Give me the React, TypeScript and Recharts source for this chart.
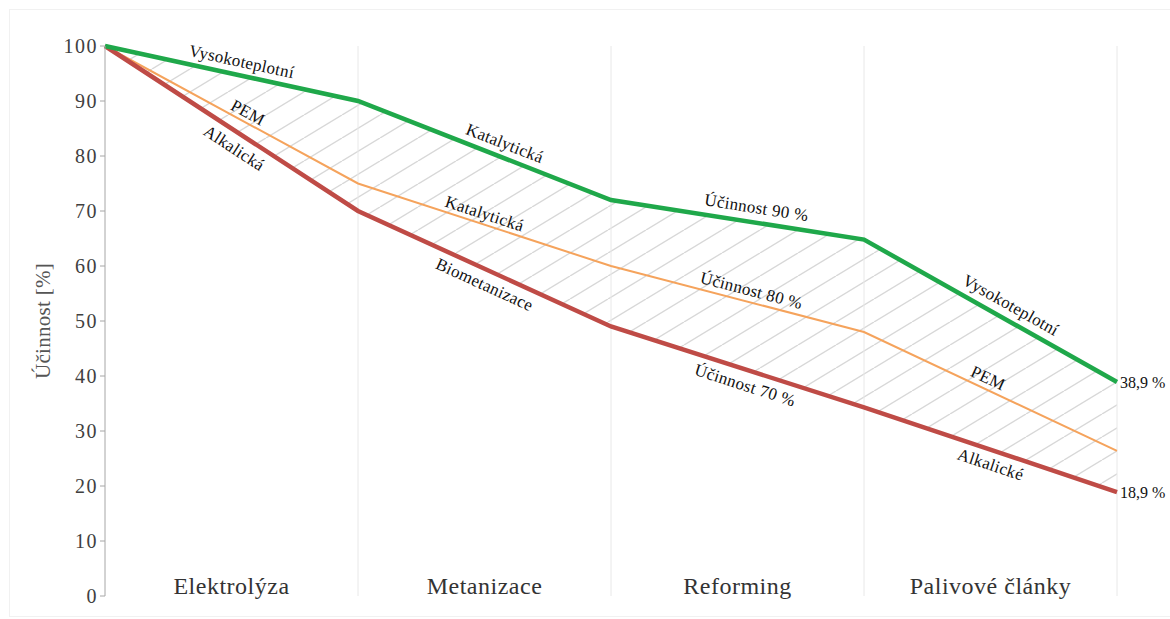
import {
  ComposedChart, Line, Area, XAxis, YAxis, ReferenceLine, ReferenceDot,
} from 'recharts'

const steps = [0, 1, 2, 3, 4]
const stages = ['Elektrolýza', 'Metanizace', 'Reforming', 'Palivové články']
const stageTicks = [0.5, 1.5, 2.5, 3.5]
const yTicks = [0, 10, 20, 30, 40, 50, 60, 70, 80, 90, 100]

// účinnost řetězce po jednotlivých krocích
const high = [100, 90, 72, 64.8, 38.9]
const mid = [100, 75, 60, 48, 26.4]
const low = [100, 70, 49, 34.3, 18.9]

const series: Record<string, number[]> = { high, mid, low }

// popisky podél úseků: seg = index úseku, t = poloha v úseku, dy = posun v px
const lineLabels = [
  { s: 'high', seg: 0, t: 0.54, dy: -14, text: 'Vysokoteplotní' },
  { s: 'mid', seg: 0, t: 0.565, dy: -11, text: 'PEM' },
  { s: 'low', seg: 0, t: 0.51, dy: 18, text: 'Alkalická' },
  { s: 'high', seg: 1, t: 0.58, dy: -15, text: 'Katalytická' },
  { s: 'mid', seg: 1, t: 0.5, dy: -11, text: 'Katalytická' },
  { s: 'low', seg: 1, t: 0.5, dy: 16, text: 'Biometanizace' },
  { s: 'high', seg: 2, t: 0.575, dy: -15, text: 'Účinnost 90 %' },
  { s: 'mid', seg: 2, t: 0.555, dy: -12, text: 'Účinnost 80 %' },
  { s: 'low', seg: 2, t: 0.53, dy: 16, text: 'Účinnost 70 %' },
  { s: 'high', seg: 3, t: 0.58, dy: -17, text: 'Vysokoteplotní' },
  { s: 'mid', seg: 3, t: 0.49, dy: -12, text: 'PEM' },
  { s: 'low', seg: 3, t: 0.5, dy: 15, text: 'Alkalické' },
]

const data = steps.map((step, i) => ({ step, high: high[i], mid: mid[i], low: low[i] }))

const W = 1170
const H = 619
const M = { top: 46, right: 53, left: 0, bottom: 0 }
const Y_W = 105
const X_H = 23
const PLOT_W = W - M.left - M.right - Y_W
const PLOT_H = H - M.top - M.bottom - X_H
const PX_X = PLOT_W / (steps.length - 1)
const PX_Y = PLOT_H / 100

const FONT = '"Liberation Serif", Tinos, "Times New Roman", serif'
const GREEN = '#1fa84a'
const ORANGE = '#f5a35c'
const RED = '#bf4b46'

const StageTick = ({ x, y, payload }: any) => (
  <text
    x={x}
    y={y - 2}
    textAnchor="middle"
    style={{ fontFamily: FONT, fontSize: 24, letterSpacing: 0.5 }}
    fill="#333"
  >
    {stages[stageTicks.indexOf(payload.value)]}
  </text>
)

const YTick = ({ x, y, payload }: any) => (
  <text
    x={x + 1}
    y={y}
    textAnchor="end"
    dominantBaseline="central"
    style={{ fontFamily: FONT, fontSize: 20, letterSpacing: 1.5 }}
    fill="#404040"
  >
    {payload.value}
  </text>
)

export default function App() {
  return (
    <div style={{ position: 'absolute', left: 0, top: 0, width: W, height: H, background: '#fff', fontFamily: FONT }}>
      <div style={{ position: 'absolute', left: 9, top: 9, width: W, height: 606, border: '1px solid #f1f1f1' }} />
      <ComposedChart width={W} height={H} data={data} margin={M} style={{ position: 'absolute', left: 0, top: 0 }}>
        <defs>
          <pattern id="hatch" patternUnits="userSpaceOnUse" width={38} height={23}>
            <line x1={0} y1={23} x2={38} y2={0} stroke="#bdbdbd" strokeWidth={1.4} />
            <line x1={-38} y1={23} x2={0} y2={0} stroke="#bdbdbd" strokeWidth={1.4} />
            <line x1={38} y1={23} x2={76} y2={0} stroke="#bdbdbd" strokeWidth={1.4} />
          </pattern>
        </defs>
        <XAxis
          type="number"
          dataKey="step"
          domain={[0, 4]}
          ticks={stageTicks}
          height={X_H}
          axisLine={false}
          tickLine={false}
          tickSize={0}
          tickMargin={0}
          tick={<StageTick />}
          interval={0}
        />
        <YAxis
          type="number"
          domain={[0, 100]}
          ticks={yTicks}
          width={Y_W}
          axisLine={{ stroke: '#a6a6a6' }}
          tickLine={{ stroke: '#a6a6a6' }}
          tickSize={5}
          tickMargin={3}
          tick={<YTick />}
          label={{
            content: ({ viewBox }: any) => (
              <text
                x={43}
                y={viewBox.y + viewBox.height / 2}
                transform={`rotate(-90 43 ${viewBox.y + viewBox.height / 2})`}
                textAnchor="middle"
                dominantBaseline="central"
                style={{ fontFamily: FONT, fontSize: 21, letterSpacing: 0.3 }}
                fill="#555"
              >
                Účinnost [%]
              </text>
            ),
          }}
        />
        {steps.slice(1).map((s) => (
          <ReferenceLine key={s} x={s} stroke="#e8e8e8" strokeWidth={1} />
        ))}
        <Area
          dataKey={(d: any) => [d.low, d.high]}
          fill="url(#hatch)"
          stroke="none"
          isAnimationActive={false}
          activeDot={false}
        />
        <Line dataKey="mid" stroke={ORANGE} strokeWidth={2} dot={false} isAnimationActive={false} />
        <Line dataKey="low" stroke={RED} strokeWidth={4.5} dot={false} isAnimationActive={false} />
        <Line dataKey="high" stroke={GREEN} strokeWidth={4.5} dot={false} isAnimationActive={false} />
        {lineLabels.map((l, i) => {
          const v = series[l.s]
          const yv = v[l.seg] + (v[l.seg + 1] - v[l.seg]) * l.t
          const angle = (Math.atan2((v[l.seg] - v[l.seg + 1]) * PX_Y, PX_X) * 180) / Math.PI
          return (
            <ReferenceDot
              key={i}
              x={l.seg + l.t}
              y={yv}
              r={0}
              shape={(p: any) => {
                const cx = p.cx
                const cy = p.cy + l.dy
                return (
                  <text
                    x={cx}
                    y={cy}
                    transform={`rotate(${angle} ${cx} ${cy})`}
                    textAnchor="middle"
                    dominantBaseline="central"
                    style={{ fontFamily: FONT, fontSize: 17, letterSpacing: 0.3 }}
                    fill="#111"
                  >
                    {l.text}
                  </text>
                )
              }}
            />
          )
        })}
        {[high, low].map((v, i) => (
          <ReferenceDot
            key={'end' + i}
            x={4}
            y={v[4]}
            r={0}
            shape={(p: any) => (
              <text
                x={p.cx + 3}
                y={p.cy}
                dominantBaseline="central"
                style={{ fontFamily: FONT, fontSize: 16 }}
                fill="#111"
              >
                {String(v[4]).replace('.', ',')} %
              </text>
            )}
          />
        ))}
      </ComposedChart>
    </div>
  )
}
